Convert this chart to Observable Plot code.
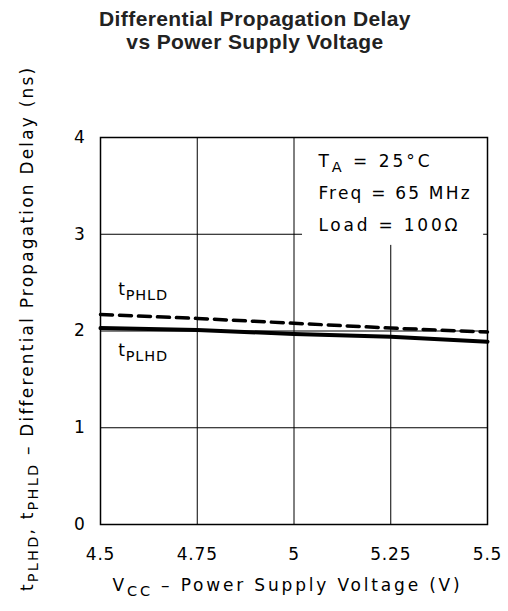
<!DOCTYPE html>
<html><head><meta charset="utf-8">
<script src="https://cdn.jsdelivr.net/npm/d3@7"></script>
<script src="https://cdn.jsdelivr.net/npm/@observablehq/plot@0.6"></script>
<style>
body{margin:0;background:#fff;}
#title{font-family:"Liberation Sans",Arial,sans-serif;font-weight:bold;font-size:21px;letter-spacing:0.4px;text-align:center;line-height:23px;height:58px;padding-top:7px;box-sizing:border-box;color:#222;width:508px;padding-left:2px}
</style></head><body>
<div id="title">Differential Propagation Delay<br>vs Power Supply Voltage</div>
<div id="chart"></div>
<script>
const vcc = [4.5, 4.75, 5.0, 5.25, 5.5];
const tPHLD = [2.17, 2.13, 2.08, 2.03, 1.99];
const tPLHD = [2.03, 2.01, 1.97, 1.94, 1.89];
const xTicks = [4.5, 4.75, 5, 5.25, 5.5];
const xTickLabels = ["4.5", "4.75", "5", "5.25", "5.5"];
const yTicks = [0, 1, 2, 3, 4];
const yTickLabels = ["0", "1", "2", "3", "4"];
const conditionLines = ["T_{A} = 25°C", "Freq = 65 MHz", "Load = 100Ω"];
const conditionX = [5.063, 5.063, 5.063];
const conditionY = [3.69, 3.36, 3.03];
const conditionBox = [{x1: 5.022, x2: 5.49, y1: 2.885, y2: 3.995}];
const curveLabelText = ["t_{PHLD}", "t_{PLHD}"];
const curveLabelX = [4.546, 4.546];
const curveLabelY = [2.367, 1.74];
const xLabel = "V_{CC} – Power Supply Voltage (V)";
const yLabel = "t_{PLHD}, t_{PHLD} – Differential Propagation Delay (ns)";

const rows = vcc.map((v, i) => ({vcc: v, phld: tPHLD[i], plhd: tPLHD[i]}));

const chart = Plot.plot({
  width: 508, height: 553,
  marginTop: 79, marginBottom: 87, marginLeft: 100, marginRight: 21,
  style: {fontFamily: "DejaVu Sans", fontSize: "17px", color: "#000", background: "#fff", overflow: "visible"},
  x: {domain: [4.5, 5.5], ticks: xTicks, tickFormat: d => xTickLabels[xTicks.indexOf(d)], tickSize: 0, tickPadding: 23, label: null},
  y: {domain: [0, 4], ticks: yTicks, tickFormat: d => yTickLabels[yTicks.indexOf(d)], tickSize: 0, tickPadding: 15, label: null},
  marks: [
    Plot.ruleX(xTicks, {stroke: "#000", strokeWidth: 1}),
    Plot.ruleY(yTicks, {stroke: "#000", strokeWidth: 1}),
    Plot.rect(conditionBox, {x1: "x1", x2: "x2", y1: "y1", y2: "y2", fill: "#fff"}),
    Plot.line(rows, {x: "vcc", y: "phld", stroke: "#000", strokeWidth: 3.5, strokeDasharray: "12,7"}),
    Plot.line(rows, {x: "vcc", y: "plhd", stroke: "#000", strokeWidth: 4}),
    Plot.text(conditionLines, {x: (d, i) => conditionX[i], y: (d, i) => conditionY[i], text: d => d, textAnchor: "start", lineAnchor: "bottom", fontSize: 17, fill: "#000", className: "cond"}),
    Plot.text(curveLabelText, {x: (d, i) => curveLabelX[i], y: (d, i) => curveLabelY[i], text: d => d, textAnchor: "start", lineAnchor: "bottom", fontSize: 17, fill: "#000"}),
    Plot.text([xLabel], {frameAnchor: "bottom-left", text: d => d, textAnchor: "start", lineAnchor: "bottom", dx: 12, dy: 66, fontSize: 17, fill: "#000", className: "xlab"}),
    Plot.text([yLabel], {frameAnchor: "left", text: d => d, rotate: -90, textAnchor: "middle", lineAnchor: "bottom", dx: -68, dy: -2, fontSize: 17, fill: "#000", className: "ylab"}),
    Plot.frame({stroke: "#000", strokeWidth: 1.5})
  ]
});

const svgNS = "http://www.w3.org/2000/svg";
d3.select(chart).selectAll("text").each(function() {
  const s = this.textContent;
  this.setAttribute("letter-spacing", "0.8");
  if (!s.includes("_{")) return;
  const parts = s.split(/(_\{[^}]*\})/);
  this.textContent = "";
  let down = false;
  for (const p of parts) {
    if (!p) continue;
    const m = p.match(/^_\{(.*)\}$/);
    const t = document.createElementNS(svgNS, "tspan");
    if (m) {
      t.textContent = m[1];
      t.setAttribute("font-size", "14.5");
      t.setAttribute("dy", "5");
      down = true;
    } else {
      t.textContent = p;
      if (down) { t.setAttribute("dy", "-5"); down = false; }
    }
    this.appendChild(t);
  }
});
const fit = (sel, lens) => d3.select(chart).selectAll(sel + " text").each(function(d, i) {
  this.setAttribute("textLength", lens[i]);
  this.setAttribute("lengthAdjust", "spacing");
});
fit(".xlab", [348]);
fit(".ylab", [524]);
fit(".cond", [112, 152, 140]);
document.getElementById("chart").appendChild(chart);
</script>
</body></html>
